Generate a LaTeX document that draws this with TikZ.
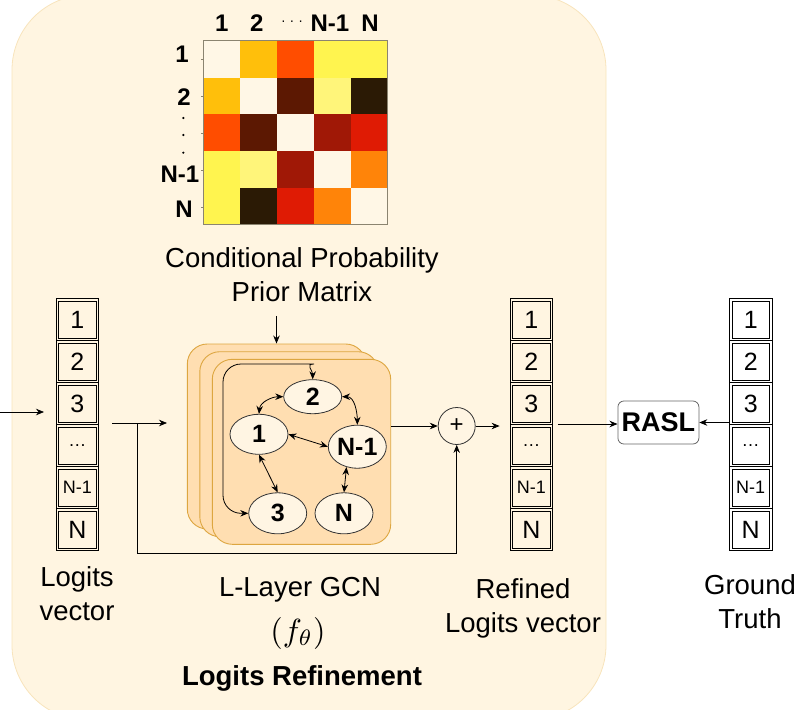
\documentclass[tikz,border=0pt]{standalone}
\usepackage{fontspec}
\setmainfont{Liberation Sans}
\usetikzlibrary{shapes.geometric,arrows.meta}

\definecolor{bgfill}{HTML}{FFF5E1}
\definecolor{bgline}{HTML}{F8E4BC}
\definecolor{gcnfill}{HTML}{FFDEB1}
\definecolor{gcnline}{HTML}{DDA640}
\definecolor{nodefill}{HTML}{FFF5E3}
\definecolor{mframe}{HTML}{8B8470}
\definecolor{mwhite}{HTML}{FFF7E6}
\definecolor{myellow}{HTML}{FFF44F}
\definecolor{mlight}{HTML}{FFF57A}
\definecolor{mamber}{HTML}{FFBF0B}
\definecolor{morange}{HTML}{FF8409}
\definecolor{mredor}{HTML}{FF4D00}
\definecolor{mred}{HTML}{DF1B04}
\definecolor{mdark}{HTML}{A01806}
\definecolor{mbrown}{HTML}{5C1802}
\definecolor{mblack}{HTML}{2B1A05}

\newcommand{\smallc}{\fontsize{18}{18}\selectfont}

\tikzset{
  cell/.style={draw, line width=0.7pt, minimum width=42.7pt, minimum height=42pt, inner sep=0pt,
    font=\fontsize{25}{25}\selectfont,
    path picture={\draw[line width=0.7pt] ([shift={(2.5pt,-2.5pt)}]path picture bounding box.north west)
      rectangle ([shift={(-2.5pt,2.5pt)}]path picture bounding box.south east);}},
  gcnbox/.style={draw=gcnline, fill=gcnfill, line width=0.9pt, rounded corners=20pt,
    minimum width=178.4pt, minimum height=185pt},
  gnode/.style={ellipse, draw=black!80, fill=nodefill, inner sep=0pt, minimum width=58pt,
    minimum height=41pt, font=\bfseries\fontsize{25}{25}\selectfont},
  mlabel/.style={font=\bfseries\fontsize{24}{24}\selectfont},
  txt/.style={align=center, font=\fontsize{27.5}{34}\selectfont},
  raslbox/.style={draw=black!60, fill=white, rounded corners=6pt, minimum width=81pt,
    minimum height=43pt, font=\bfseries\fontsize{27}{27}\selectfont}
}

\begin{document}
\begin{tikzpicture}[x=1pt, y=-1pt, >={Stealth[length=8pt,width=6.5pt]}, line width=0.8pt]
  \useasboundingbox (0,0) rectangle (802,709);

  % Φόντο
  \draw[draw=bgline, fill=bgfill, rounded corners=75pt] (12,-5) rectangle (606,720);

  % Πίνακας
  \foreach \rowcols [count=\r] in {{mwhite,mamber,mredor,myellow,myellow},{mamber,mwhite,mbrown,mlight,mblack},{mredor,mbrown,mwhite,mdark,mred},{myellow,mlight,mdark,mwhite,morange},{myellow,mblack,mred,morange,mwhite}}
    \foreach \col [count=\c] in \rowcols
      \fill[fill=\col] ({203.3+36.8*(\c-1)}, {40.7+36.8*(\r-1)}) rectangle ++(36.8,36.8);
  \draw[mframe, line width=0.7pt] (203.3,40.7) rectangle (387.3,224.7);
  \foreach \y in {59,96,133,170,207}
    \draw[mframe, line width=0.6pt] (203.3,\y) -- (200.5,\y);

  \node[mlabel] at (221.7,23) {1};
  \node[mlabel] at (256.7,23) {2};
  \node[font=\fontsize{14}{14}\selectfont] at (292,23) {·\hspace{4pt}·\hspace{4pt}·};
  \node[mlabel] at (330,23) {N-1};
  \node[mlabel] at (370,23) {N};
  \node[mlabel] at (182,54) {1};
  \node[mlabel] at (184,97) {2};
  \foreach \y in {118,135,152.7}
    \fill (183.3,\y) circle (1.2pt);
  \node[mlabel] at (180,174) {N-1};
  \node[mlabel] at (184,209) {N};

  \node[txt] (cpm) at (302,275) {Conditional Probability\\Prior Matrix};

  % Διανύσματα
  \foreach \v/\x in {lv/77.3, rv/531.3, gt/750.7}
    \foreach \t [count=\i] in {1, 2, 3, {\smallc\ldots}, {\smallc N-1}, N}
      \node[cell] (\v\i) at (\x, 277.5+42*\i) {\t};

  % GCN
  \node[gcnbox] (gcnback) at (276.5,436.5) {};
  \node[gcnbox] (gcnmid) at (289,444.2) {};
  \node[gcnbox] (gcn) at (301.5,451.8) {};

  \node[gnode, minimum height=34pt] (n2) at (312.7,396.7) {2};
  \node[gnode, minimum height=40pt] (n1) at (259,434.3) {1};
  \node[gnode, minimum height=43pt] (nN1) at (357.3,446.7) {N-1};
  \node[gnode] (n3) at (277.7,513.3) {3};
  \node[gnode] (nN) at (344,513.3) {N};

  \coordinate (loop) at (223,364);
  \coordinate (looptop) at (296,364);
  \draw[<->] (n1.north) to[out=85, in=180] (n2.west);
  \draw[<->] (n2.east) to[out=0, in=90] (nN1.north);
  \draw[<->] (n1.east) -- (nN1.west);
  \draw[<->] (n1.south) -- (n3.north);
  \draw[<->] (nN1.-118) -- (nN.north);
  \draw[<->, rounded corners=18pt] (n3.west) -| (loop) -- (looptop) to[out=0, in=90] (n2.north);

  \node[circle, draw=black!80, fill=nodefill, minimum size=37pt, inner sep=0pt,
    font=\fontsize{24}{24}\selectfont] (plus) at (456.7,426) {+};
  \node[raslbox] (rasl) at (658.4,422.5) {RASL};

  % Βέλη
  \coordinate (in) at (0,412);
  \coordinate (lvin) at (44,412);
  \coordinate (lvout) at (112,423);
  \coordinate (split) at (137.7,423);
  \coordinate (gcnin) at (167,423);
  \coordinate (skip) at (137.7,553);
  \coordinate (rvout) at (558,424);
  \draw[->] (in) -- (lvin);
  \draw[->] (lvout) -- (gcnin);
  \draw[->] (split) -- (skip) -| (plus.south);
  \draw[->, shorten <=10pt] (cpm.south -| gcnback.north) -- (gcnback.north);
  \draw[->] (gcn.east |- plus.west) -- (plus.west);
  \draw[->, shorten >=10pt] (plus.east) -- (plus.east -| rv1.west);
  \draw[->] (rvout) -- (rvout -| rasl.west);
  \draw[->] (rasl.east -| gt3.west) -- (rasl.east);

  % Ετικέτες
  \node[txt] at (77,594) {Logits\\vector};
  \node[txt] at (300,590) {L-Layer GCN};
  \node[scale=3.2] at (298,633) {$(f_\theta)$};
  \node[txt] at (523,608) {Refined\\Logits vector};
  \node[txt] at (750,602) {Ground\\Truth};
  \node[font=\bfseries\fontsize{27.5}{27.5}\selectfont] at (302,678) {Logits Refinement};
\end{tikzpicture}
\end{document}
